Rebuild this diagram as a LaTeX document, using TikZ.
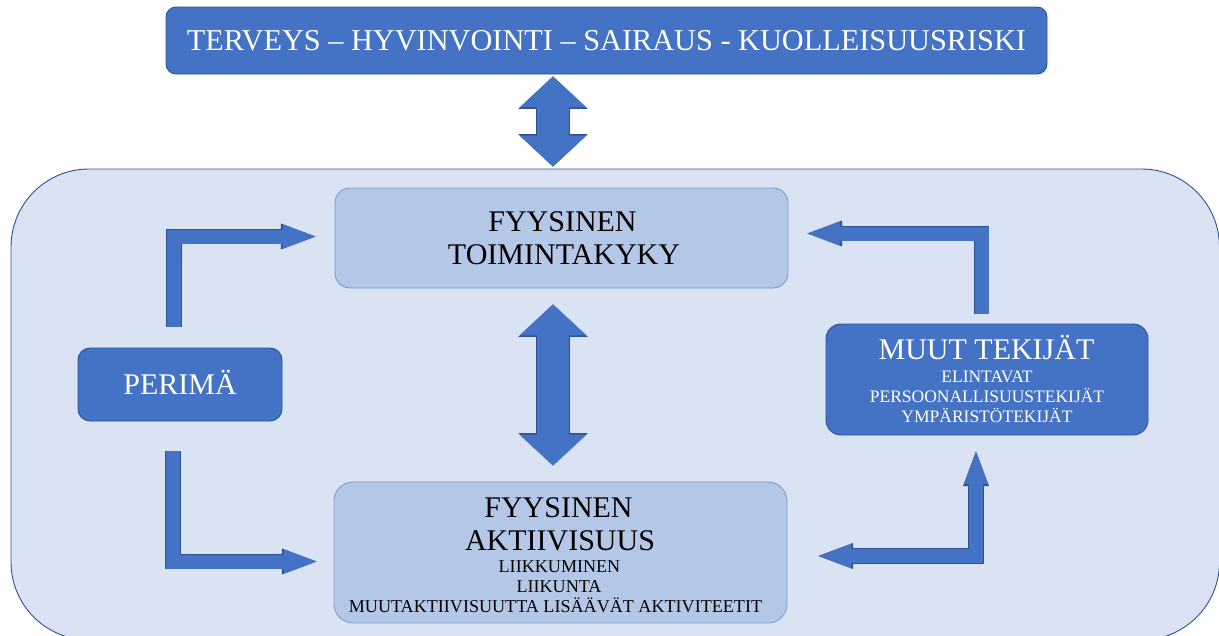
\documentclass[tikz,border=0pt]{standalone}
\usepackage{fontspec}
\setmainfont{Liberation Serif}
\usetikzlibrary{arrows.meta,calc}
\definecolor{cDark}{HTML}{4472C4}
\definecolor{cEdge}{HTML}{2F528F}
\definecolor{cLight}{HTML}{B4C7E7}
\definecolor{cLightEdge}{HTML}{7F9BCB}
\definecolor{cBg}{HTML}{DAE3F3}
\tikzset{
  sh/.tip={Triangle[width=24pt,length=33pt,line width=0pt]},
  shB/.tip={Triangle[width=26pt,length=34.6pt,line width=0pt]},
  bh/.tip={Triangle[width=67pt,length=31pt,line width=0pt]},
  bhB/.tip={Triangle[width=69.4pt,length=32.4pt,line width=0pt]},
  darkbox/.style={draw=cEdge, fill=cDark, line width=0.9pt, inner sep=0pt, text=white},
  lightbox/.style={draw=cLightEdge, fill=cLight, line width=0.9pt, inner sep=0pt},
  bgbox/.style={draw=cEdge, fill=cBg, line width=0.9pt, inner sep=0pt, rounded corners=78pt},
  lbl/.style={inner sep=0pt, anchor=base},
  bigfont/.style={font=\fontsize{30}{33}\selectfont},
  bannerfont/.style={font=\fontsize{30.3}{33}\selectfont},
  smallfont/.style={font=\fontsize{17.5}{20}\selectfont},
  smallerfontB/.style={font=\fontsize{18.1}{20}\selectfont},
  capbox/.style={text height=19.8pt, text depth=0pt},
  thinone/.style={draw=cDark, line width=14pt, line join=miter, -sh,
    preaction={draw=cEdge, line width=15.6pt, line join=miter, -shB}},
  thintwo/.style={draw=cDark, line width=14pt, line join=miter, sh-sh,
    preaction={draw=cEdge, line width=15.6pt, line join=miter, shB-shB}},
  bigtwo/.style={draw=cDark, line width=32pt, bh-bh,
    preaction={draw=cEdge, line width=33.6pt, bhB-bhB}},
}
\begin{document}
\begin{tikzpicture}[x=1pt,y=-1pt]
\useasboundingbox (0,0) rectangle (1219,635);
% background panel
\node[bgbox, minimum width=1208.5pt, minimum height=471pt] (bg) at (615.25,404.5) {};
% top banner
\node[darkbox, bannerfont, capbox, rounded corners=10pt, minimum width=881pt, minimum height=67pt]
  (banner) at (606.5,40.5) {TERVEYS – HYVINVOINTI – SAIRAUS - KUOLLEISUUSRISKI};
% boxes
\node[lightbox, rounded corners=15pt, minimum width=453pt, minimum height=100pt] (toim) at (561.5,238) {};
\node[lightbox, rounded corners=19pt, minimum width=453pt, minimum height=141pt] (akt) at (560.5,552.5) {};
\node[darkbox, bigfont, capbox, rounded corners=12pt, minimum width=204pt, minimum height=73pt]
  (perima) at (180,384.5) {PERIMÄ};
\node[darkbox, rounded corners=15pt, minimum width=322pt, minimum height=111pt] (muut) at (987,379.5) {};
% texts
\node[lbl, bigfont] (toim1) at (562.5,231) {FYYSINEN};
\node[lbl, bigfont] (toim2) at (564,264) {TOIMINTAKYKY};
\node[lbl, bigfont] (akt1) at (558.5,517) {FYYSINEN};
\node[lbl, bigfont] (akt2) at (560,550) {AKTIIVISUUS};
\node[lbl, smallerfontB] (akt3) at (559.5,572) {LIIKKUMINEN};
\node[lbl, smallerfontB] (akt4) at (559,592) {LIIKUNTA};
\node[lbl, smallerfontB] (akt5) at (555.5,612) {MUUTAKTIIVISUUTTA LISÄÄVÄT AKTIVITEETIT};
\node[lbl, bigfont, text=white] (muut1) at (986.5,359.5) {MUUT TEKIJÄT};
\node[lbl, smallfont, text=white] (muut2) at (987,382) {ELINTAVAT};
\node[lbl, smallfont, text=white] (muut3) at (987,402) {PERSOONALLISUUSTEKIJÄT};
\node[lbl, smallfont, text=white] (muut4) at (987,422) {YMPÄRISTÖTEKIJÄT};
% connector end points
\coordinate (tA) at ([xshift=-53.5pt, yshift=-2pt]banner.south);
\coordinate (tB) at ($(tA |- bg.north)+(0,-2)$);
\coordinate (mA) at ($(toim.south -| tA)+(0,16)$);
\coordinate (mB) at ($(akt.north -| tA)+(0,-16)$);
\coordinate (ulA) at ([xshift=-6pt, yshift=21pt]perima.north);
\coordinate (ulB) at ([xshift=-19pt, yshift=1.5pt]toim.west);
\coordinate (llA) at ([xshift=-7pt, yshift=-30pt]perima.south);
\coordinate (llB) at ([xshift=-17pt, yshift=-9pt]akt.west);
\coordinate (urA) at ([xshift=-5.5pt, yshift=10pt]muut.north);
\coordinate (urB) at ([xshift=19pt, yshift=4.5pt]toim.east);
\coordinate (lrA) at ([xshift=31pt, yshift=-3.5pt]akt.east);
\coordinate (lrB) at ([xshift=-11pt, yshift=-16pt]muut.south);
% connectors
\draw[bigtwo] (tA) -- (tB);
\draw[bigtwo] (mA) -- (mB);
\draw[thinone] (ulA) |- (ulB);
\draw[thinone] (llA) |- (llB);
\draw[thinone] (urA) |- (urB);
\draw[thintwo] (lrA) -| (lrB);
\end{tikzpicture}
\end{document}
